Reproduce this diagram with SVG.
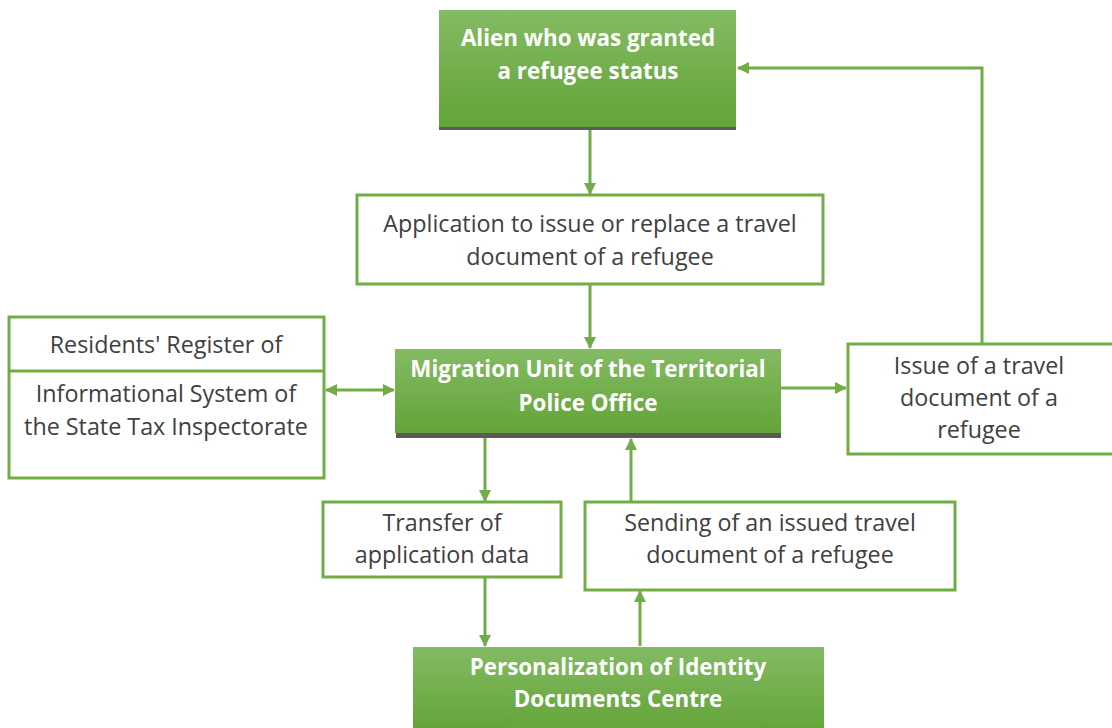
<svg xmlns="http://www.w3.org/2000/svg" width="1112" height="728" viewBox="0 0 1112 728">
<style>
.g{fill:url(#gr)}
.sh{fill:#595959}
.w{fill:#fff;stroke:#70ad47;stroke-width:3}
.tb{font-family:"Open Sans",Lato,sans-serif;font-weight:bold;font-size:22.4px;fill:#fff;text-anchor:middle}
.t{font-family:"Open Sans",Lato,sans-serif;font-size:23.3px;fill:#404040;text-anchor:middle}
.c{stroke:#70ad47;stroke-width:3;fill:none}
</style>
<defs>
<linearGradient id="gr" x1="0" y1="0" x2="0" y2="1">
<stop offset="0" stop-color="#83bb63"/>
<stop offset="1" stop-color="#63a437"/>
</linearGradient>
<marker id="ah" viewBox="0 0 12 12" refX="11" refY="6" markerWidth="12" markerHeight="12" markerUnits="userSpaceOnUse" orient="auto-start-reverse">
<path d="M0,0 L12,6 L0,12 Z" fill="#70ad47"/>
</marker>
</defs>
<g id="connectors">
<line class="c" x1="590" y1="130" x2="590" y2="194" marker-end="url(#ah)"/>
<line class="c" x1="590" y1="285" x2="590" y2="348" marker-end="url(#ah)"/>
<line class="c" x1="326" y1="390" x2="394" y2="390" marker-start="url(#ah)" marker-end="url(#ah)"/>
<line class="c" x1="781" y1="388" x2="846" y2="388" marker-end="url(#ah)"/>
<polyline class="c" points="982,343 982,68 738,68" marker-end="url(#ah)"/>
<line class="c" x1="485" y1="438" x2="485" y2="501" marker-end="url(#ah)"/>
<line class="c" x1="631" y1="501" x2="631" y2="439" marker-end="url(#ah)"/>
<line class="c" x1="485" y1="578" x2="485" y2="646" marker-end="url(#ah)"/>
<line class="c" x1="640" y1="646" x2="640" y2="591" marker-end="url(#ah)"/>
</g>
<g id="alien">
<rect class="sh" x="439" y="12" width="297" height="118"/>
<rect class="g" x="439" y="10" width="297" height="117"/>
<text class="tb" x="588" y="46">Alien who was granted</text>
<text class="tb" x="588" y="79">a refugee status</text>
</g>
<g id="application">
<rect class="w" x="357" y="195" width="466" height="89"/>
<text class="t" x="590" y="232">Application to issue or replace a travel</text>
<text class="t" x="590" y="265">document of a refugee</text>
</g>
<g id="register">
<rect class="w" x="9" y="317" width="315" height="161"/>
<line x1="9" y1="371" x2="324" y2="371" stroke="#70ad47" stroke-width="3"/>
<text class="t" x="166" y="353">Residents' Register of</text>
<text class="t" x="166" y="402">Informational System of</text>
<text class="t" x="166" y="435">the State Tax Inspectorate</text>
</g>
<g id="migration">
<rect class="sh" x="396" y="352" width="385" height="86"/>
<rect class="g" x="395" y="349" width="386" height="84"/>
<text class="tb" x="588" y="377">Migration Unit of the Territorial</text>
<text class="tb" x="588" y="411">Police Office</text>
</g>
<g id="issue">
<rect class="w" x="848" y="344" width="270" height="110"/>
<text class="t" x="979" y="374">Issue of a travel</text>
<text class="t" x="979" y="406">document of a</text>
<text class="t" x="979" y="438">refugee</text>
</g>
<g id="transfer">
<rect class="w" x="323" y="502" width="238" height="75"/>
<text class="t" x="442" y="531">Transfer of</text>
<text class="t" x="442" y="563">application data</text>
</g>
<g id="sending">
<rect class="w" x="585" y="502" width="370" height="88"/>
<text class="t" x="770" y="531">Sending of an issued travel</text>
<text class="t" x="770" y="563">document of a refugee</text>
</g>
<g id="personalization">
<rect class="g" x="413" y="647" width="411" height="85"/>
<text class="tb" x="618" y="675">Personalization of Identity</text>
<text class="tb" x="618" y="707">Documents Centre</text>
</g>
</svg>
